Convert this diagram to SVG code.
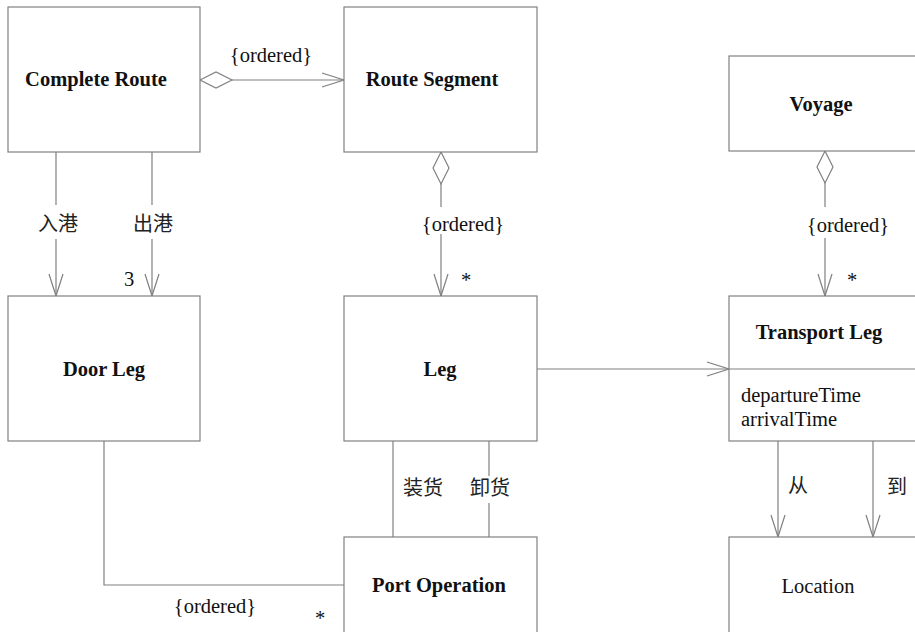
<svg xmlns="http://www.w3.org/2000/svg" width="915" height="632" viewBox="0 0 915 632">
<defs>
<style>
.box{fill:#fff;stroke:#808080;stroke-width:1.2}
.ln{fill:none;stroke:#808080;stroke-width:1.2}
.t{font-family:"Liberation Serif","Times New Roman",serif;font-size:20.5px;fill:#111}
.b{font-family:"Liberation Serif","Times New Roman",serif;font-size:20.5px;font-weight:bold;fill:#111;text-anchor:middle}
.c{font-family:"Noto Sans CJK SC","Noto Sans",sans-serif;font-size:20px;fill:#222;text-anchor:middle}
.m{text-anchor:middle}
</style>
<marker id="arr" markerUnits="userSpaceOnUse" markerWidth="30" markerHeight="20" viewBox="-24 -10 26 20" refX="0" refY="0" orient="auto">
<path d="M-22,-7 L0,0 L-22,7" fill="none" stroke="#808080" stroke-width="1.2"/>
</marker>
<marker id="dia" markerUnits="userSpaceOnUse" markerWidth="36" markerHeight="20" viewBox="-2 -10 36 20" refX="0" refY="0" orient="auto">
<path d="M0,0 L16,-8 L32,0 L16,8 Z" fill="#fff" stroke="#808080" stroke-width="1.2"/>
</marker>
</defs>
<rect width="915" height="632" fill="#fff"/>
<g id="connectors">
<path class="ln" d="M200,80 H344" marker-start="url(#dia)" marker-end="url(#arr)"/>
<path class="ln" d="M56,152 V205 M56,239 V296" marker-end="url(#arr)"/>
<path class="ln" d="M152,152 V205 M152,239 V296" marker-end="url(#arr)"/>
<path class="ln" d="M441,152 V207 M441,234 V296" marker-start="url(#dia)" marker-end="url(#arr)"/>
<path class="ln" d="M825,151 V207 M825,238 V296" marker-start="url(#dia)" marker-end="url(#arr)"/>
<path class="ln" d="M537,369 H729" marker-end="url(#arr)"/>
<path class="ln" d="M778,441 V537" marker-end="url(#arr)"/>
<path class="ln" d="M873,441 V537" marker-end="url(#arr)"/>
<path class="ln" d="M393,441 V537"/>
<path class="ln" d="M489,441 V476 M489,503 V537"/>
<path class="ln" d="M104,441 V585 H344"/>
<text class="t m" x="271" y="62">{ordered}</text>
<text class="c" x="58" y="231">入港</text>
<text class="c" x="153" y="231">出港</text>
<text class="t m" x="129" y="286">3</text>
<text class="t m" x="463" y="231">{ordered}</text>
<text class="t m" x="466" y="287">*</text>
<text class="t m" x="848" y="232">{ordered}</text>
<text class="t m" x="852" y="287">*</text>
<text class="c" x="423" y="495">装货</text>
<text class="c" x="490" y="495">卸货</text>
<text class="c" x="798" y="493">从</text>
<text class="c" x="897" y="494">到</text>
<text class="t m" x="215" y="613">{ordered}</text>
<text class="t m" x="320" y="625">*</text>
</g>
<g id="complete-route">
<rect class="box" x="8" y="7" width="192" height="145"/>
<text class="b" x="96" y="86">Complete Route</text>
</g>
<g id="route-segment">
<rect class="box" x="344" y="7" width="193" height="145"/>
<text class="b" x="432" y="86">Route Segment</text>
</g>
<g id="voyage">
<rect class="box" x="729" y="56" width="200" height="95"/>
<text class="b" x="821" y="111">Voyage</text>
</g>
<g id="door-leg">
<rect class="box" x="8" y="296" width="192" height="145"/>
<text class="b" x="104" y="376">Door Leg</text>
</g>
<g id="leg">
<rect class="box" x="344" y="296" width="193" height="145"/>
<text class="b" x="440" y="376">Leg</text>
</g>
<g id="transport-leg">
<rect class="box" x="729" y="296" width="200" height="145"/>
<line class="ln" x1="729" y1="369" x2="929" y2="369"/>
<text class="b" x="819" y="339">Transport Leg</text>
<text class="t" x="741" y="402">departureTime</text>
<text class="t" x="741" y="426">arrivalTime</text>
</g>
<g id="port-operation">
<rect class="box" x="344" y="537" width="193" height="110"/>
<text class="b" x="439" y="592">Port Operation</text>
</g>
<g id="location">
<rect class="box" x="729" y="537" width="200" height="110"/>
<text class="t m" x="818" y="593">Location</text>
</g>
</svg>
